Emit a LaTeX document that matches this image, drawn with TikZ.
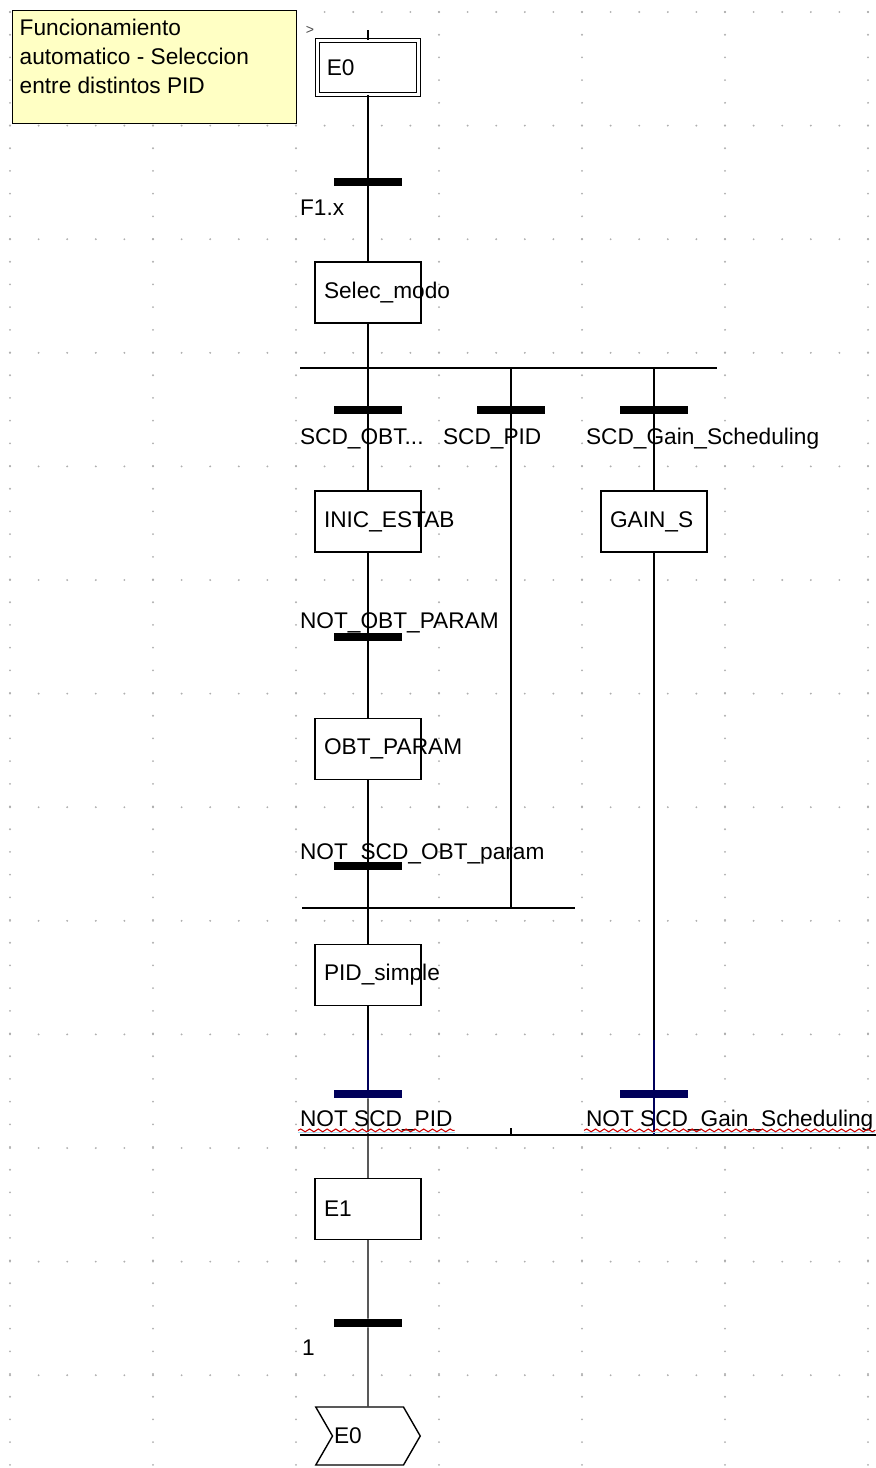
\documentclass[tikz,border=0pt]{standalone}
\usepackage{fontspec}
\setmainfont{Liberation Sans}
\usetikzlibrary{shapes.symbols,decorations.pathmorphing}
\definecolor{notefill}{RGB}{255,255,196}
\definecolor{navybar}{RGB}{0,0,90}
\definecolor{gridgray}{RGB}{175,175,175}

\begin{document}
\begin{tikzpicture}[
  x=0.02cm, y=-0.02cm,
  font=\fontsize{12.9}{16.5}\selectfont,
  etapa/.style={draw=black, line width=0.8pt, align=left, text width=1.76cm,
                inner xsep=0.18cm, inner ysep=0pt, minimum height=1.22cm},
  inicial/.style={etapa, line width=0.6pt, double, double distance=1.8pt,
                  text width=1.65cm, minimum height=1.07cm},
  trans/.style={fill=black, draw=none, inner sep=0pt,
                minimum width=1.38cm, minimum height=0.16cm},
  salto/.style={signal, signal to=east, signal from=west, draw=black, line width=0.8pt,
                signal pointer angle=120, align=left, text width=1.36cm,
                inner xsep=0.03cm, minimum height=1.16cm},
  nota/.style={draw=black, line width=0.8pt, fill=notefill, anchor=north west,
               inner xsep=0.14cm, inner ysep=0.08cm},
  lbl/.style={anchor=base west, inner sep=1pt},
  flow/.style={draw=black, line width=0.8pt},
  spell/.style={red!80!black, line width=0.6pt, decorate,
                decoration={snake, amplitude=0.8pt, segment length=5pt}}
]
\useasboundingbox (0,0) rectangle (876,1468);

% grid of the editor
\foreach \r in {0,...,12}
  \foreach \c in {0,...,30}
    \fill[gridgray] (10+28.6*\c, 12+113.6*\r) circle (0.6pt);
\foreach \c in {0,...,6}
  \foreach \r in {0,...,64}
    \fill[gridgray] (10+143*\c, 12+22.7*\r) circle (0.6pt);

% comment
\node[nota] (nota) at (12,10) {\parbox[t][2.1cm][t]{5.4cm}{\raggedright
  \vspace*{2.5pt}Funcionamiento\\automatico - Seleccion\\entre distintos PID}};
\node[font=\fontsize{8}{9}\selectfont, text=black!70, inner sep=0pt] (marca) at (310,30) {>};

% steps
\node[inicial] (e0)    at (368,67.5)  {E0};
\node[etapa]   (selec) at (368,292.5) {Selec\_modo};
\node[etapa]   (inic)  at (368,521.5) {INIC\_ESTAB};
\node[etapa]   (gains) at (654,521.5) {GAIN\_S};
\node[etapa]   (obt)   at (368,749)   {OBT\_PARAM};
\node[etapa]   (pid)   at (368,975)   {PID\_simple};
\node[etapa]   (e1)    at (368,1209)  {E1};
\node[salto]   (jmp)   at (368,1436)  {E0};

% transitions
\node[trans] (t1)   at (368,182)  {};
\node[trans] (ta)   at (368,410)  {};
\node[trans] (tb)   at (511,410)  {};
\node[trans] (tc)   at (654,410)  {};
\node[trans] (tob)  at (368,637)  {};
\node[trans] (tnot) at (368,866)  {};
\node[trans, fill=navybar] (tpid) at (368,1094) {};
\node[trans, fill=navybar] (tgs)  at (654,1094) {};
\node[trans] (tfin) at (368,1323) {};

% receptivities
\node[lbl] (l1)   at (298,215)  {F1.x};
\node[lbl] (la)   at (298,444)  {SCD\_OBT...};
\node[lbl] (lb)   at (441,444)  {SCD\_PID};
\node[lbl] (lc)   at (584,444)  {SCD\_Gain\_Scheduling};
\node[lbl] (lob)  at (298,628)  {NOT\_OBT\_PARAM};
\node[lbl] (lnot) at (298,859)  {NOT\_SCD\_OBT\_param};
\node[lbl] (lpid) at (298,1126) {NOT SCD\_PID};
\node[lbl] (lgs)  at (584,1126) {NOT SCD\_Gain\_Scheduling};
\node[lbl] (lfin) at (300,1355) {1};

% divergence / convergence lines
\coordinate (top)  at (368,30);
\coordinate (or1L) at (300,368);
\coordinate (or1R) at (717,368);
\coordinate (or2L) at (302,908);
\coordinate (or2R) at (575,908);
\coordinate (and1L) at (300,1135);
\coordinate (and1R) at (876,1135);
\coordinate (tick) at (511,1128);
\coordinate (navA) at (368,1040);
\coordinate (navB) at (654,1040);

\draw[flow] (or1L) -- (or1R);
\draw[flow] (or2L) -- (or2R);
\draw[flow] (and1L) -- (and1R);
\draw[flow] (tick) -- (tick |- and1L);

\draw[flow] (top) -- (e0) -- (t1) -- (selec) -- (ta) -- (inic) -- (tob) -- (obt) -- (tnot) -- (pid) -- (navA);
\draw[flow, draw=navybar] (navA) -- (tpid);
\draw[flow] (tpid) -- (e1) -- (tfin) -- (jmp);
\draw[flow] (tb |- or1L) -- (tb) -- (tb |- or2L);
\draw[flow] (tc |- or1L) -- (tc) -- (gains) -- (navB);
\draw[flow, draw=navybar] (navB) -- (tgs) -- (tgs |- and1L);

% spell check marks
\draw[cyan!35, line width=0.6pt] ([yshift=-3.5pt]lpid.base west) -- ([yshift=-3.5pt]lpid.base east);
\draw[cyan!35, line width=0.6pt] ([yshift=-3.5pt]lgs.base west) -- ([yshift=-3.5pt]lgs.base east);
\draw[spell] ([yshift=-2.5pt]lpid.base west) -- ([yshift=-2.5pt]lpid.base east);
\draw[spell] ([yshift=-2.5pt]lgs.base west) -- ([yshift=-2.5pt]lgs.base east);
\end{tikzpicture}
\end{document}
